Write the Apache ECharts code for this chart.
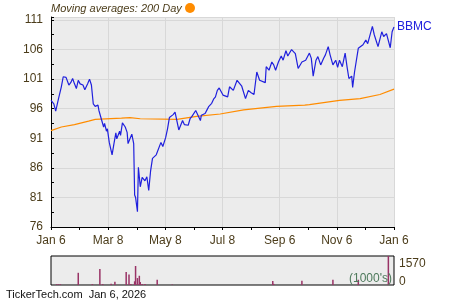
<!DOCTYPE html>
<html>
<head>
<meta charset="utf-8">
<script src="https://cdn.jsdelivr.net/npm/echarts@6/dist/echarts.min.js"></script>
<style>
html,body{margin:0;padding:0;background:#fff;}
#c{width:450px;height:300px;}
</style>
</head>
<body>
<div id="c"></div>
<script>
// Days since Jan 6, 2025
const priceDays = [0,3,5,8,11,13,16,17,19,21,23,25,27,29,31,34,36,39,41,43,45,47,50,51,54,56,57,59,60,62,64,65,67,69,70,73,74,76,79,81,82,84,86,88,89,90,92,93,95,97,98,100,102,104,106,108,110,112,114,117,119,121,122,124,126,128,130,132,134,136,138,140,142,144,146,148,150,152,154,156,159,160,162,164,166,168,171,173,175,177,179,183,188,190,194,198,200,203,207,210,213,216,219,222,224,228,229,232,235,237,239,242,245,247,250,252,256,260,263,267,271,275,277,279,282,284,287,290,292,295,297,300,303,305,307,310,313,315,317,320,321,323,327,329,332,335,337,342,344,348,352,354,357,361,363,365];
const priceValues = [97.4,96.8,95.6,97.7,99.7,101.4,101.3,101.4,100.0,100.4,101.1,100.2,99.4,100.8,100.2,100.0,99.2,100.2,101.0,100.0,96.8,96.4,96.6,95.7,94.0,92.9,93.5,92.2,92.6,90.3,90.1,88.2,90.1,91.9,90.9,92.2,91.5,93.6,92.9,92.0,90.1,89.9,91.7,90.1,81.4,81.0,78.6,86.1,82.8,84.4,84.7,83.8,84.5,82.2,85.5,87.6,87.7,88.2,88.1,90.3,89.6,89.8,91.1,92.6,94.5,94.3,95.0,95.4,95.2,92.4,92.3,94.0,93.3,93.5,93.2,94.3,94.7,95.0,95.7,95.4,94.0,94.9,94.6,95.2,95.8,96.4,96.9,97.6,98.0,99.1,99.5,98.3,98.0,99.7,99.1,100.8,100.5,99.8,97.7,99.1,98.7,98.4,102.2,100.8,101.1,100.4,103.1,102.5,103.9,103.4,102.5,103.9,104.9,104.2,105.8,104.9,106.0,105.3,102.8,103.9,104.2,105.4,104.5,101.5,104.2,104.8,103.4,104.5,105.1,106.5,105.1,103.4,104.2,103.0,104.2,103.1,105.4,103.1,101.1,101.5,99.6,102.2,106.2,106.5,106.8,107.6,107.0,109.9,108.5,106.5,109.0,108.2,108.7,106.3,109.0,109.8];
const maDays = [0,11,25,40,47,75,84,95,134,155,180,205,240,270,275,307,329,350,365];
const maValues = [92.3,92.9,93.3,93.9,94.2,94.4,94.5,94.3,94.2,94.7,95.1,95.8,96.4,96.6,96.7,97.4,97.7,98.4,99.3];
const volDays = [6,8,10,29,44,52,55,64,68,80,83,85,89,90,92,94,95,97,100,113,129,236,237,267,300,327,359];
const volValues = [40,40,40,660,50,870,50,70,180,710,570,60,200,1030,375,500,160,60,60,285,30,215,60,230,285,285,1570];
const xTickLabels = ['Jan 6','Mar 8','May 8','Jul 8','Sep 6','Nov 6','Jan 6'];
const yTickLabels = ['76','81','86','91','96','101','106','111'];
const yBase = 76;       // value at the bottom of the price axis
const yStep = 5;
const xSpan = 365;

const textColor = '#4b3c1a';
const chart = echarts.init(document.getElementById('c'), null, {renderer:'canvas'});
const xStep = xSpan / (xTickLabels.length - 1);

chart.setOption({
  animation:false,
  backgroundColor:'#ffffff',
  textStyle:{fontFamily:'Liberation Sans, Arial, sans-serif'},
  grid:[
    {left:51, top:17, width:343, height:210, show:true, backgroundColor:'#ececec', borderWidth:0},
    {left:51, top:256, width:343, height:29, show:true, backgroundColor:'#ececec', borderColor:'#000', borderWidth:1}
  ],
  xAxis:[
    {type:'value', gridIndex:0, min:0, max:xSpan, interval:xStep,
     axisLine:{show:true, lineStyle:{color:'#000', width:1}},
     axisTick:{show:true, length:3, lineStyle:{color:'#000'}},
     minorTick:{show:true, splitNumber:2, length:3, lineStyle:{color:'#000'}},
     splitLine:{show:true, lineStyle:{color:'#d8d8d8', width:1}},
     axisLabel:{color:textColor, fontSize:12, margin:8,
       formatter:v => xTickLabels[Math.round(v / xStep)] || ''}},
    {type:'value', gridIndex:1, min:0, max:xSpan, interval:xStep,
     axisLine:{show:false}, axisTick:{show:false}, splitLine:{show:false}, axisLabel:{show:false}}
  ],
  yAxis:[
    {type:'value', gridIndex:0, min:0, max:111.5 - yBase, interval:yStep,
     axisLine:{show:true, lineStyle:{color:'#000', width:1}},
     axisTick:{show:true, inside:true, length:3, lineStyle:{color:'#000'}},
     minorTick:{show:true, splitNumber:2, length:3, lineStyle:{color:'#000'}},
     splitLine:{show:true, lineStyle:{color:'#d8d8d8', width:1}},
     axisLabel:{color:textColor, fontSize:12, margin:8, showMaxLabel:false,
       formatter:v => yTickLabels[Math.round(v / yStep)] || ''}},
    {type:'value', gridIndex:1, min:0, max:1570, interval:1570, position:'right',
     axisLine:{show:false}, axisTick:{show:false}, splitLine:{show:false},
     axisLabel:{color:textColor, fontSize:12, margin:5,
       formatter:v => v === 0 ? '{b|0}' : '{t|1570}',
       rich:{t:{fontSize:12, color:textColor, padding:[16,0,0,0]},
             b:{fontSize:12, color:textColor, padding:[0,0,6,0]}}}}
  ],
  series:[
    {type:'line', xAxisIndex:0, yAxisIndex:0, symbol:'none', z:3,
     data:maDays.map((d,i)=>[d, maValues[i]-yBase]),
     lineStyle:{color:'#ff8c00', width:1.2}},
    {type:'line', xAxisIndex:0, yAxisIndex:0, symbol:'none', z:4,
     data:priceDays.map((d,i)=>[d, priceValues[i]-yBase]),
     lineStyle:{color:'#2020dd', width:1.2},
     endLabel:{show:true, formatter:'BBMC', color:'#2020dd', fontSize:12, distance:3}},
    {type:'bar', xAxisIndex:1, yAxisIndex:1, barWidth:1.5,
     data:volDays.map((d,i)=>[d, volValues[i]]),
     itemStyle:{color:'#993366'}}
  ],
  graphic:[
    {type:'text', left:51, top:3, z:10,
     style:{text:'Moving averages: 200 Day', fontSize:11, fontStyle:'italic', fill:'#4b3c1a', fontFamily:'Liberation Sans, Arial, sans-serif'}},
    {type:'circle', shape:{cx:190, cy:8, r:5}, style:{fill:'#ff8c00'}, z:10},
    {type:'text', left:349, top:273, z:10,
     style:{text:"(1000's)", fontSize:12, fill:'#4e7a5c', fontFamily:'Liberation Sans, Arial, sans-serif'}},
    {type:'text', left:6, top:289, z:10,
     style:{text:'TickerTech.com  Jan 6, 2026', fontSize:11, fill:'#111', fontFamily:'Liberation Sans, Arial, sans-serif'}}
  ]
});
</script>
</body>
</html>
